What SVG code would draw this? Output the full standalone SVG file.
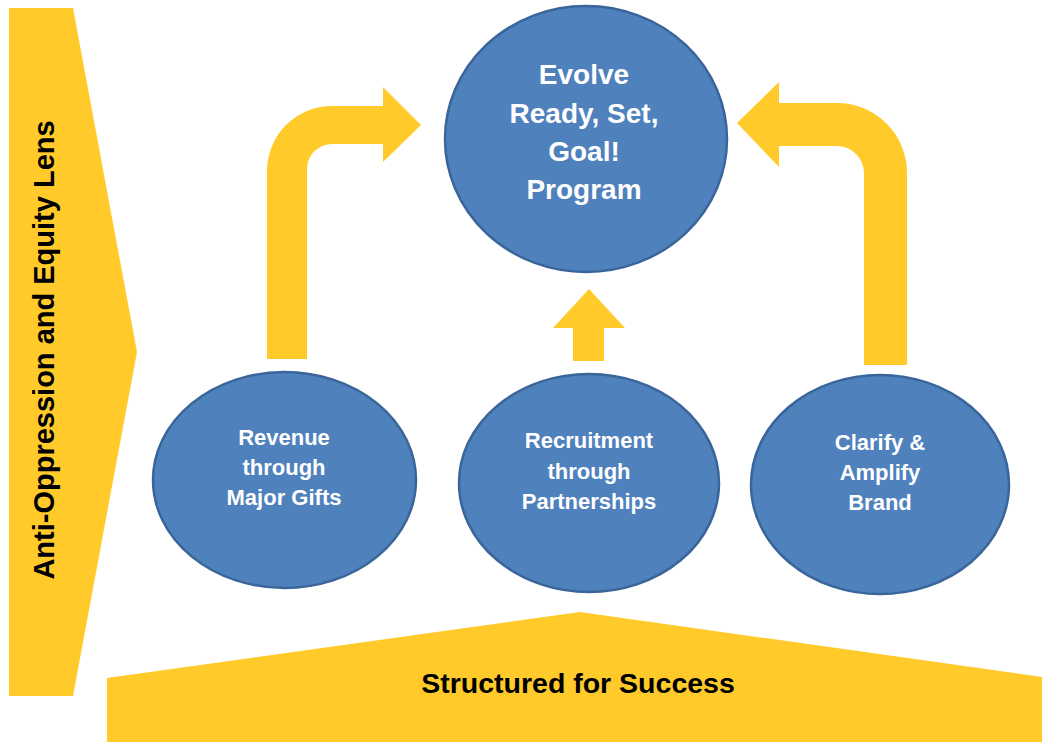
<svg xmlns="http://www.w3.org/2000/svg" width="1042" height="742" viewBox="0 0 1042 742">
  <style>
    .band { fill: #FFCA2A; }
    .flow { fill: #FFCA2A; }
    .node { fill: #4F81BD; stroke: #3A659A; stroke-width: 2.5; }
    .label { font-family: "Liberation Sans", Arial, sans-serif; font-weight: bold; fill: #FFFFFF; text-anchor: middle; }
    .big { font-size: 28px; }
    .small { font-size: 22px; }
    .banner { font-family: "Liberation Sans", Arial, sans-serif; font-weight: bold; font-size: 28.5px; fill: #000000; text-anchor: middle; }
    .side { font-size: 29px; }
  </style>
  <rect width="1042" height="742" fill="#FFFFFF"/>

  <!-- side band: lens chevron -->
  <g id="lens">
    <polygon class="band" points="9,8 73,8 137,352 73,696 9,696"/>
    <text class="banner side" transform="translate(54,350) rotate(-90)" x="0" y="0">Anti-Oppression and Equity Lens</text>
  </g>

  <!-- base band -->
  <g id="foundation">
    <polygon class="band" points="107,678 580,612 1042,677 1042,742 107,742"/>
    <text class="banner" x="578" y="693">Structured for Success</text>
  </g>

  <!-- connectors -->
  <g id="connectors">
    <path class="flow" d="M267,359 V171 A65,65 0 0 1 332,106 H383 V87 L421,125 L383,162 V144 H332 A25,25 0 0 0 307,169 V359 Z"/>
    <path class="flow" d="M589,289 L625,328 H604 V361 H573 V328 H553 Z"/>
    <path class="flow" d="M907,365 V173 A70,70 0 0 0 837,103 H779 V82 L737,123 L779,167 V146 H837 A27,27 0 0 1 864,173 V365 Z"/>
  </g>

  <g id="program">
    <ellipse class="node" cx="586" cy="139" rx="141" ry="133"/>
    <text class="label big" x="584" y="84">Evolve</text>
    <text class="label big" x="584" y="123">Ready, Set,</text>
    <text class="label big" x="584" y="161">Goal!</text>
    <text class="label big" x="584" y="199">Program</text>
  </g>

  <g id="revenue">
    <ellipse class="node" cx="284.5" cy="480" rx="131.5" ry="108"/>
    <text class="label small" x="284" y="445">Revenue</text>
    <text class="label small" x="284" y="475">through</text>
    <text class="label small" x="284" y="505">Major Gifts</text>
  </g>

  <g id="recruitment">
    <ellipse class="node" cx="589" cy="483" rx="130" ry="109"/>
    <text class="label small" x="589" y="448">Recruitment</text>
    <text class="label small" x="589" y="478.5">through</text>
    <text class="label small" x="589" y="509">Partnerships</text>
  </g>

  <g id="brand">
    <ellipse class="node" cx="880" cy="484.5" rx="129" ry="109.5"/>
    <text class="label small" x="880" y="450">Clarify &amp;</text>
    <text class="label small" x="880" y="480">Amplify</text>
    <text class="label small" x="880" y="510">Brand</text>
  </g>
</svg>
